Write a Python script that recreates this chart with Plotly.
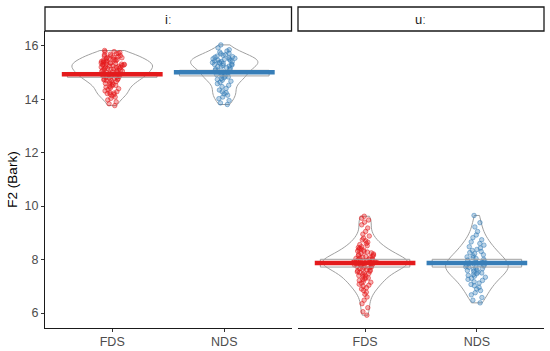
import plotly.graph_objects as go

# ---------------- data ----------------
vowels = ["iː", "uː"]
groups = ["FDS", "NDS"]

i_fds = [15.82, 15.78, 15.77, 15.74, 15.71, 15.70, 15.68, 15.66, 15.63, 15.62, 15.61, 15.59, 15.57, 15.56,
         15.55, 15.53, 15.51, 15.50, 15.48, 15.47, 15.45, 15.44, 15.43, 15.41, 15.40, 15.39, 15.37, 15.36,
         15.35, 15.34, 15.33, 15.31, 15.31, 15.30, 15.29, 15.28, 15.27, 15.26, 15.25, 15.24, 15.22, 15.21,
         15.20, 15.19, 15.18, 15.17, 15.16, 15.15, 15.13, 15.12, 15.11, 15.09, 15.08, 15.07, 15.05, 15.04,
         15.03, 15.02, 15.01, 14.99, 14.98, 14.96, 14.95, 14.94, 14.92, 14.91, 14.90, 14.88, 14.87, 14.85,
         14.84, 14.83, 14.81, 14.80, 14.78, 14.76, 14.75, 14.73, 14.72, 14.70, 14.68, 14.66, 14.64, 14.61,
         14.59, 14.57, 14.55, 14.52, 14.50, 14.47, 14.45, 14.42, 14.39, 14.36, 14.31, 14.28, 14.25, 14.23,
         14.21, 14.19, 14.17, 14.13, 14.08, 14.03, 13.97, 13.90, 13.83, 13.76]
i_nds = [16.03, 15.92, 15.85, 15.80, 15.76, 15.72, 15.70, 15.66, 15.64, 15.61, 15.59, 15.57, 15.55, 15.53,
         15.51, 15.50, 15.48, 15.46, 15.45, 15.43, 15.41, 15.40, 15.38, 15.37, 15.35, 15.33, 15.31, 15.30,
         15.28, 15.26, 15.24, 15.22, 15.20, 15.18, 15.16, 15.13, 15.11, 15.08, 15.05, 15.02, 15.00, 14.97,
         14.94, 14.92, 14.89, 14.86, 14.83, 14.80, 14.77, 14.74, 14.71, 14.67, 14.63, 14.58, 14.52, 14.47,
         14.40, 14.34, 14.28, 14.24, 14.20, 14.15, 14.08, 14.02, 13.95, 13.86, 13.80]
u_fds = [9.62, 9.55, 9.48, 9.40, 9.30, 9.18, 9.05, 8.95, 8.88, 8.80, 8.74, 8.70, 8.65, 8.60, 8.56, 8.52,
         8.48, 8.45, 8.42, 8.40, 8.37, 8.35, 8.32, 8.30, 8.28, 8.25, 8.23, 8.21, 8.19, 8.17, 8.15, 8.13,
         8.11, 8.09, 8.07, 8.05, 8.04, 8.02, 8.01, 8.00, 7.98, 7.97, 7.96, 7.95, 7.94, 7.93, 7.92, 7.91,
         7.90, 7.89, 7.88, 7.87, 7.86, 7.85, 7.84, 7.83, 7.82, 7.81, 7.80, 7.78, 7.77, 7.75, 7.74, 7.72,
         7.70, 7.68, 7.66, 7.64, 7.62, 7.60, 7.58, 7.56, 7.54, 7.52, 7.50, 7.48, 7.45, 7.42, 7.40, 7.37,
         7.34, 7.31, 7.28, 7.25, 7.22, 7.18, 7.15, 7.12, 7.08, 7.04, 7.00, 6.95, 6.90, 6.84, 6.78, 6.70,
         6.60, 6.48, 6.35, 6.20, 6.05, 5.92]
u_nds = [9.65, 9.38, 9.22, 9.05, 8.92, 8.82, 8.74, 8.66, 8.60, 8.54, 8.48, 8.43, 8.38, 8.34, 8.30, 8.26,
         8.22, 8.18, 8.14, 8.10, 8.07, 8.04, 8.01, 7.98, 7.95, 7.92, 7.90, 7.87, 7.85, 7.82, 7.80, 7.78,
         7.76, 7.73, 7.71, 7.69, 7.66, 7.64, 7.61, 7.59, 7.56, 7.53, 7.50, 7.47, 7.44, 7.41, 7.38, 7.34,
         7.30, 7.26, 7.22, 7.17, 7.12, 7.07, 7.02, 6.96, 6.90, 6.84, 6.76, 6.68, 6.58, 6.48, 6.38]

# summary statistics per panel (FDS, NDS)
means = {"iː": [14.93, 15.01], "uː": [7.87, 7.87]}
ci_low = {"iː": [14.82, 14.87], "uː": [7.72, 7.72]}
ci_high = {"iː": [15.00, 15.08], "uː": [8.01, 8.01]}
samples = {"iː": [i_fds, i_nds], "uː": [u_fds, u_nds]}

y_ticks = [6, 8, 10, 12, 14, 16]

# ---------------- styles ----------------
col_line = {"FDS": "#E41A1C", "NDS": "#377EB8"}
col_fill = {"FDS": "rgba(228,26,28,0.35)", "NDS": "rgba(55,126,184,0.35)"}
col_edge = {"FDS": "rgba(228,26,28,0.75)", "NDS": "rgba(55,126,184,0.75)"}
vio_width = {"iː": [0.72, 0.60], "uː": [0.76, 0.56]}
vio_bw = {"iː": [0.16, 0.17], "uː": [0.22, 0.26]}
gray = "#A0A0A0"
FONT = "Arial, Liberation Sans, sans-serif"

fig = go.Figure()
axes = {"iː": "x", "uː": "x2"}

for v in vowels:
    xa = axes[v]
    for gi, g in enumerate(groups):
        w = vio_width[v][gi]
        fig.add_trace(go.Violin(
            y=samples[v][gi], x0=gi, xaxis=xa, yaxis="y",
            width=w, spanmode="hard", bandwidth=vio_bw[v][gi],
            line=dict(color=gray, width=1), fillcolor="rgba(0,0,0,0)",
            points="all", pointpos=0, jitter=0.11 / (w / 2),
            marker=dict(size=4.5, color=col_fill[g], line=dict(color=col_edge[g], width=0.7)),
            box_visible=False, meanline_visible=False, showlegend=False, hoverinfo="y",
        ))
    for gi, g in enumerate(groups):
        # crossbar (confidence box)
        fig.add_trace(go.Scatter(
            x=[gi - 0.4, gi + 0.4, gi + 0.4, gi - 0.4, gi - 0.4],
            y=[ci_low[v][gi], ci_low[v][gi], ci_high[v][gi], ci_high[v][gi], ci_low[v][gi]],
            mode="lines", line=dict(color=gray, width=1), xaxis=xa, yaxis="y",
            showlegend=False, hoverinfo="skip",
        ))
        # mean line
        fig.add_trace(go.Scatter(
            x=[gi - 0.45, gi + 0.45], y=[means[v][gi], means[v][gi]],
            mode="lines", line=dict(color=col_line[g], width=4.5), xaxis=xa, yaxis="y",
            showlegend=False, hoverinfo="y",
        ))

xcommon = dict(range=[-0.6, 1.6], tickvals=[0, 1], ticktext=groups, showline=True,
               linecolor="#1a1a1a", linewidth=1.1, ticks="outside", ticklen=3, tickcolor="#333333",
               tickfont=dict(family=FONT, size=12.5, color="#4D4D4D"), showgrid=False,
               zeroline=False, anchor="y", fixedrange=True, automargin=False,
               ticklabelstandoff=-1)

fig.update_layout(
    template="none",
    width=550, height=351,
    margin=dict(l=45, r=6, t=31, b=23, autoexpand=False),
    paper_bgcolor="white", plot_bgcolor="white",
    violinmode="overlay",
    xaxis=dict(domain=[0, 0.494], **xcommon),
    xaxis2=dict(domain=[0.507, 1], **xcommon),
    yaxis=dict(range=[5.44, 16.55], tickvals=y_ticks, showline=True, linecolor="#1a1a1a",
               linewidth=1.1, ticks="outside", ticklen=3, tickcolor="#333333",
               tickfont=dict(family=FONT, size=12.5, color="#4D4D4D"), showgrid=False,
               zeroline=False, anchor="x", fixedrange=True, automargin=False,
               title=dict(text="F2 (Bark)", font=dict(family=FONT, size=13.5, color="#000000"),
                          standoff=3)),
    showlegend=False,
)

# facet strips
for v in vowels:
    ref = axes[v] + " domain"
    fig.add_shape(type="rect", xref=ref, yref="paper", x0=0, x1=1, y0=1.0, y1=1.0808,
                  line=dict(color="#1a1a1a", width=1.3), fillcolor="white", layer="above")
    fig.add_annotation(xref=ref, yref="paper", x=0.5, y=1.0404, text=v, showarrow=False,
                       font=dict(family=FONT, size=13, color="#1A1A1A"),
                       xanchor="center", yanchor="middle")

fig.write_html("out.html", config=dict(displayModeBar=False),
               post_script="document.body.style.margin='0';document.body.style.padding='0';")
